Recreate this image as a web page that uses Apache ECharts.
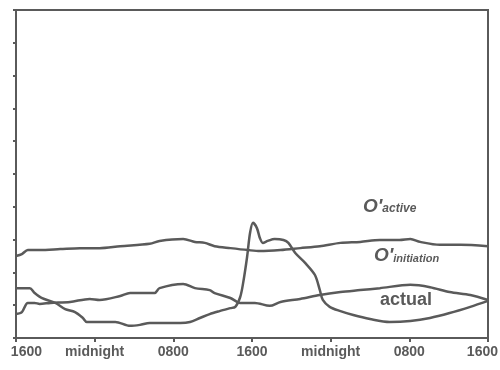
<!DOCTYPE html>
<html>
<head>
<meta charset="utf-8">
<script src="https://cdn.jsdelivr.net/npm/echarts@6/dist/echarts.min.js"></script>
<style>
html,body{margin:0;padding:0;background:#fff;}
#chart{width:500px;height:370px;}
</style>
</head>
<body>
<div id="chart"></div>
<script>
// X in hours since first 1600 (0..48), Y in arbitrary units (0..10)
var tickLabels = ['1600', 'midnight', '0800', '1600', 'midnight', '0800', '1600'];

var activeHours = [0, 0.6, 1.2, 2.4, 4.5, 6.5, 8.5, 10.6, 13.6, 14.6, 17, 18.2, 19.2, 20.2, 21.8, 23.6, 24.8, 26.9, 28.9, 30.9, 33, 35, 37, 39, 40.1, 41.1, 43.1, 45.2, 48];
var activeValues = [2.50, 2.56, 2.68, 2.68, 2.71, 2.74, 2.74, 2.80, 2.87, 2.96, 3.02, 2.93, 2.90, 2.80, 2.74, 2.68, 2.65, 2.68, 2.74, 2.80, 2.90, 2.93, 2.99, 2.99, 3.02, 2.93, 2.84, 2.84, 2.80];

var initiationHours = [0, 0.6, 1.2, 1.9, 2.4, 3.5, 5.5, 7.5, 8.5, 10.6, 11.6, 13.6, 14.1, 14.6, 17, 18.2, 19.7, 20.2, 21.8, 22.8, 24.3, 25.8, 26.9, 28.9, 30.9, 33, 35, 37, 40.1, 42.1, 44.1, 46.2, 48];
var initiationValues = [0.73, 0.79, 1.07, 1.07, 1.04, 1.07, 1.10, 1.19, 1.16, 1.28, 1.37, 1.37, 1.37, 1.52, 1.65, 1.52, 1.46, 1.37, 1.22, 1.07, 1.07, 0.98, 1.10, 1.19, 1.31, 1.40, 1.46, 1.52, 1.62, 1.55, 1.40, 1.31, 1.16];

var actualHours = [0, 1.4, 1.9, 2.6, 4.0, 5.0, 6.0, 6.8, 7.2, 8.5, 10.1, 11.6, 12.6, 13.6, 16.7, 17.7, 18.7, 19.7, 20.7, 21.8, 22.3, 22.8, 23.1, 23.5, 23.8, 24.1, 24.5, 24.8, 25.1, 25.6, 26.3, 27.2, 27.7, 28.4, 29.4, 30.4, 30.9, 31.2, 31.9, 33.0, 34.3, 36.0, 38.0, 40.1, 42.1, 44.1, 46.2, 48];
var actualValues = [1.52, 1.52, 1.37, 1.22, 1.07, 0.88, 0.79, 0.61, 0.49, 0.49, 0.49, 0.37, 0.40, 0.46, 0.46, 0.49, 0.61, 0.73, 0.82, 0.91, 0.95, 1.25, 1.68, 2.47, 3.20, 3.51, 3.35, 3.05, 2.90, 2.96, 3.02, 2.99, 2.90, 2.59, 2.29, 1.92, 1.46, 1.16, 0.95, 0.82, 0.70, 0.58, 0.49, 0.52, 0.61, 0.76, 0.95, 1.13];

function pairs(xs, ys) { return xs.map(function (x, i) { return [x, ys[i]]; }); }

var ink = '#5a5a5a';
var font = 'Liberation Sans, Arial, sans-serif';
var chart = echarts.init(document.getElementById('chart'), null, {renderer: 'canvas'});

function lineSeries(name, xs, ys) {
  return {
    name: name, type: 'line', data: pairs(xs, ys),
    showSymbol: false, smooth: 0.3,
    lineStyle: {color: ink, width: 2.5}, silent: true, animation: false
  };
}

chart.setOption({
  animation: false,
  grid: {left: 16, right: 12, top: 10, bottom: 32, outerBoundsMode: 'none', containLabel: false,
         show: true, borderColor: ink, borderWidth: 2, backgroundColor: '#fff'},
  xAxis: {
    type: 'value', min: 0, max: 48, interval: 8,
    axisLine: {lineStyle: {color: ink, width: 2}},
    axisTick: {show: true, length: 4, lineStyle: {color: ink, width: 2}},
    splitLine: {show: false},
    axisLabel: {
      margin: 7, color: ink, fontFamily: font, fontWeight: 'bold', fontSize: 14,
      formatter: function (v) {
        var i = Math.round(v / 8);
        if (i === 0) return '{first|' + tickLabels[i] + '}';
        if (i === tickLabels.length - 1) return '{last|' + tickLabels[i] + '}';
        return tickLabels[i];
      },
      rich: {
        first: {width: 52, align: 'right', color: ink, fontFamily: font, fontWeight: 'bold', fontSize: 14},
        last: {width: 20, align: 'right', color: ink, fontFamily: font, fontWeight: 'bold', fontSize: 14}
      }
    }
  },
  yAxis: {
    type: 'value', min: 0, max: 10, interval: 1,
    axisLine: {show: true, lineStyle: {color: ink, width: 2}},
    axisTick: {show: true, length: 3, lineStyle: {color: ink, width: 2}},
    axisLabel: {show: false},
    splitLine: {show: false}
  },
  series: [
    lineSeries("O'active", activeHours, activeValues),
    lineSeries("O'initiation", initiationHours, initiationValues),
    lineSeries('actual', actualHours, actualValues)
  ],
  graphic: [
    {type: 'text', x: 363, y: 216, silent: true, style: {
      text: "{o|O'}{s|active}", textVerticalAlign: 'bottom',
      rich: {
        o: {fontSize: 19, fontWeight: 'bold', fontStyle: 'italic', fill: ink, fontFamily: font, verticalAlign: 'bottom'},
        s: {fontSize: 12, fontWeight: 'bold', fontStyle: 'italic', fill: ink, fontFamily: font, verticalAlign: 'bottom', padding: [0, 0, 1, 0]}
      }
    }},
    {type: 'text', x: 374, y: 265, silent: true, style: {
      text: "{o|O'}{s|initiation}", textVerticalAlign: 'bottom',
      rich: {
        o: {fontSize: 19, fontWeight: 'bold', fontStyle: 'italic', fill: ink, fontFamily: font, verticalAlign: 'bottom'},
        s: {fontSize: 11, fontWeight: 'bold', fontStyle: 'italic', fill: ink, fontFamily: font, verticalAlign: 'bottom', padding: [0, 0, 1, 0]}
      }
    }},
    {type: 'text', x: 406, y: 300, silent: true, style: {
      text: 'actual', fill: ink, fontSize: 18, fontWeight: 'bold', fontFamily: font,
      textAlign: 'center', textVerticalAlign: 'middle'
    }}
  ]
});
</script>
</body>
</html>
